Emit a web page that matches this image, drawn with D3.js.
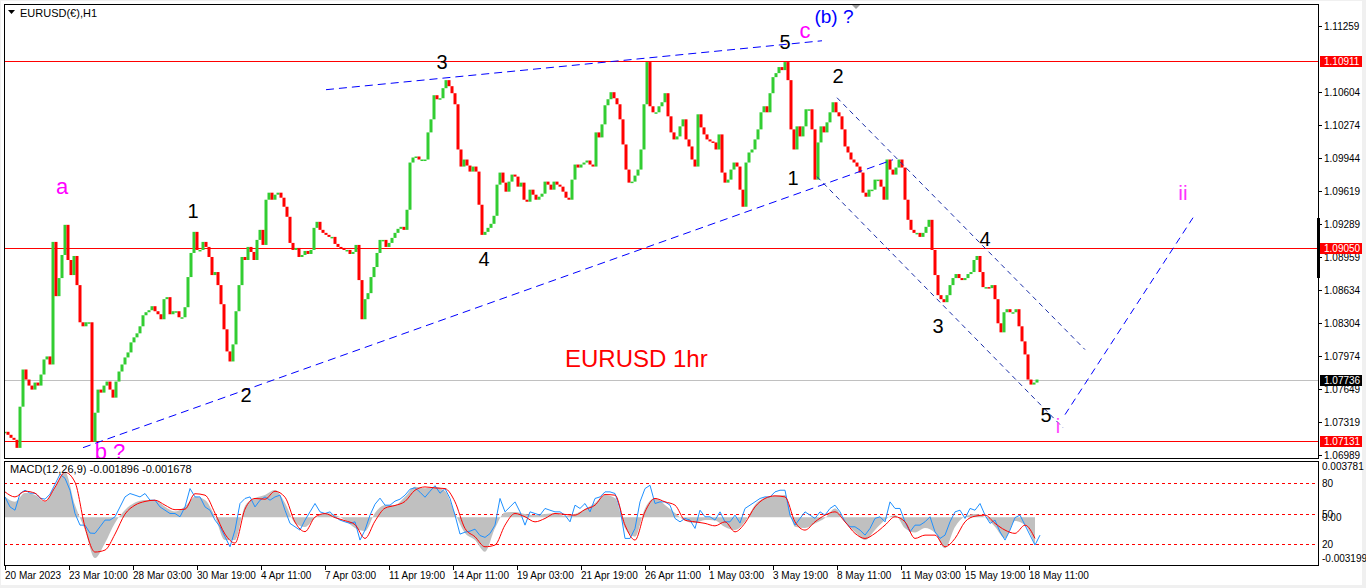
<!DOCTYPE html>
<html>
<head>
<meta charset="utf-8">
<script src="https://d3js.org/d3.v7.min.js"></script>
<style>
  body { margin: 0; background: #f0f0f0; }
  svg { display: block; font-family: "Liberation Sans", Arial, sans-serif; }
</style>
</head>
<body>
<div id="chart"></div>

<script>
// H1 EURUSD, one close every 3 bars (bar 0 = 20 Mar 2023)
const closeStep = 3;
const closes = [
  1.0722,1.0719,1.0716,1.0714,1.0706,1.0747,1.0784,1.0774,1.0768,1.0764,
  1.0771,1.0768,1.0779,1.0794,1.0797,1.0789,1.0911,1.0857,1.0875,1.0898,
  1.0928,1.0893,1.0878,1.0897,1.0868,1.0831,1.0827,1.0831,1.0831,1.0712,
  1.0741,1.0764,1.0761,1.0768,1.0772,1.0764,1.0756,1.0772,1.0782,1.0789,
  1.0796,1.0801,1.0811,1.0816,1.0820,1.0827,1.0838,1.0841,1.0843,1.0847,
  1.0842,1.0839,1.0834,1.0854,1.0856,1.0839,1.0842,1.0842,1.0836,1.0836,
  1.0846,1.0876,1.0900,1.0921,1.0903,1.0903,1.0911,1.0906,1.0896,1.0878,
  1.0881,1.0868,1.0849,1.0824,1.0802,1.0792,1.0809,1.0842,1.0868,1.0896,
  1.0893,1.0906,1.0901,1.0893,1.0913,1.0923,1.0908,1.0953,1.0960,1.0953,
  1.0958,1.0960,1.0955,1.0946,1.0936,1.0910,1.0903,1.0905,1.0896,1.0898,
  1.0902,1.0899,1.0903,1.0925,1.0931,1.0923,1.0920,1.0918,1.0916,1.0916,
  1.0909,1.0906,1.0905,1.0903,1.0903,1.0899,1.0901,1.0908,1.0873,1.0834,
  1.0854,1.0860,1.0876,1.0886,1.0900,1.0913,1.0913,1.0906,1.0910,1.0915,
  1.0920,1.0924,1.0926,1.0923,1.0943,1.0990,1.0995,1.0996,1.0993,1.0993,
  1.0993,1.1020,1.1033,1.1057,1.1053,1.1054,1.1064,1.1072,1.1066,1.1059,
  1.1048,1.1003,1.0986,1.0993,1.0987,1.0981,1.0986,1.0981,1.0948,1.0918,
  1.0921,1.0925,1.0929,1.0937,1.0968,1.0980,1.0970,1.0961,1.0971,1.0978,
  1.0976,1.0966,1.0970,1.0953,1.0951,1.0963,1.0958,1.0953,1.0956,1.0959,
  1.0971,1.0968,1.0963,1.0971,1.0968,1.0966,1.0961,1.0955,1.0953,1.0973,
  1.0988,1.0985,1.0988,1.0990,1.0992,1.0988,1.0986,1.1020,1.1015,1.1028,
  1.1047,1.1053,1.1060,1.1054,1.1048,1.1033,1.1008,1.0983,1.0970,1.0971,
  1.0977,1.0983,1.1003,1.1048,1.1090,1.1046,1.1040,1.1040,1.1046,1.1050,
  1.1059,1.1036,1.1020,1.1013,1.1016,1.1026,1.1033,1.1013,1.1006,1.0993,
  1.0986,1.1038,1.1025,1.1018,1.1013,1.1011,1.1010,1.1003,1.1018,1.0980,
  1.0970,1.0973,1.0983,1.0990,1.0986,1.0963,1.0946,1.0990,1.1000,1.1003,
  1.1013,1.1023,1.1040,1.1046,1.1040,1.1059,1.1075,1.1079,1.1085,1.1082,
  1.1090,1.1072,1.1023,1.1003,1.1026,1.1016,1.1026,1.1043,1.1043,1.1023,
  1.0973,1.1010,1.1026,1.1020,1.1030,1.1040,1.1050,1.1040,1.1036,1.1023,
  1.1006,1.1000,1.0993,1.0990,1.0986,1.0980,1.0960,1.0956,1.0963,1.0963,
  1.0973,1.0973,1.0966,1.0953,1.0993,1.0983,1.0978,1.0985,1.0993,1.0985,
  1.0953,1.0933,1.0923,1.0920,1.0920,1.0916,1.0920,1.0926,1.0933,1.0903,
  1.0878,1.0858,1.0854,1.0851,1.0858,1.0868,1.0875,1.0879,1.0875,1.0873,
  1.0875,1.0879,1.0881,1.0893,1.0897,1.0881,1.0866,1.0866,1.0865,1.0868,
  1.0854,1.0830,1.0821,1.0841,1.0844,1.0841,1.0841,1.0844,1.0827,1.0812,
  1.0799,1.0774,1.0769,1.0771,1.0774
];

// lower window: grey histogram (MACD units), every 10 bars
const histStep = 10;
const macdHist = [
  0.00138,0.00105,0.00163,0.00150,0.00105,0.00205,0.00304,0.00083,-0.00085,-0.00273,
  -0.00172,-0.00038,0.00049,0.00099,0.00116,0.00116,0.00071,0.00039,0.00072,0.00138,
  0.00116,0.00004,-0.00152,-0.00152,0.00076,0.00129,0.00150,0.00183,0.00096,-0.00038,
  -0.00065,-0.00005,0.00029,0.00015,-0.00018,-0.00072,-0.00092,0.00029,0.00083,0.00083,
  0.00138,0.00205,0.00195,0.00205,0.00176,0.00027,-0.00105,-0.00152,-0.00231,-0.00074,
  0.00032,0.00036,0.00022,0.00015,0.00022,0.00027,0.00009,0.00022,0.00056,0.00096,
  0.00150,0.00129,-0.00074,-0.00130,0.00060,0.00129,0.00083,0.00029,-0.00023,-0.00038,
  -0.00018,-0.00021,-0.00065,-0.00085,-0.00030,0.00083,0.00133,0.00146,0.00150,-0.00063,
  -0.00072,-0.00042,-0.00005,0.00060,-0.00032,-0.00099,-0.00152,-0.00085,-0.00018,0.00015,
  -0.00074,-0.00102,-0.00072,-0.00105,-0.00208,-0.00065,0.00005,0.00022,0.00000,-0.00063,
  -0.00141,-0.00025,-0.00052,-0.00186
];

// red line on the 0-100 levels scale, every 10 bars
const signalLine = [
  71.0,66.1,71.6,69.7,62.0,75.5,90.0,80.3,36.8,12.6,
  14.5,30.0,49.4,58.1,61.7,62.9,58.1,53.7,54.2,69.2,
  67.8,50.3,30.0,21.3,54.2,64.6,63.9,71.6,65.8,41.6,
  32.4,46.5,49.9,46.0,43.0,39.2,25.8,42.6,55.2,57.8,
  61.7,72.6,75.8,74.8,74.2,61.3,35.5,27.4,17.7,19.4,
  38.7,50.0,46.8,41.9,45.2,50.0,49.1,48.4,53.9,58.1,
  68.4,67.8,38.7,24.2,51.6,64.6,61.3,58.1,43.6,41.9,
  40.4,38.0,41.9,32.2,40.7,56.4,64.6,67.1,66.1,41.9,
  33.9,41.9,48.4,51.6,41.9,30.7,25.8,30.7,38.7,46.8,
  41.9,25.8,29.0,29.0,17.7,25.8,41.9,47.4,48.4,40.4,
  33.9,30.7,38.7,25.8
];

// blue line on the 0-100 levels scale, every 5 bars
const fastStep = 5;
const fastLine = [
  66.1,56.4,53.2,69.4,72.6,69.7,69.7,64.9,63.9,68.8,
  78.4,88.1,84.2,72.6,50.0,38.7,38.7,31.0,30.7,37.1,
  43.6,43.6,46.8,56.4,66.1,69.4,67.8,66.1,69.4,62.9,
  62.9,56.4,53.2,50.0,50.0,46.8,56.4,74.2,66.1,66.1,
  56.4,53.2,43.6,37.1,27.4,17.7,33.9,59.7,64.6,66.1,
  56.4,62.9,66.1,62.9,66.1,67.8,53.2,40.4,37.1,33.9,
  43.6,51.6,59.7,51.6,50.0,51.6,46.8,43.6,41.9,40.4,
  41.9,24.2,33.9,48.4,59.0,64.9,58.1,58.1,62.0,63.9,
  67.8,73.6,75.0,70.7,65.8,71.6,77.0,69.7,74.2,64.6,
  48.4,30.0,31.9,32.9,34.8,28.6,26.8,30.5,38.7,64.6,
  51.6,56.4,61.3,51.6,38.7,51.6,50.0,48.4,54.9,53.2,
  51.6,51.6,48.4,41.9,58.1,54.9,59.7,51.6,64.6,66.1,
  71.0,71.0,69.4,54.9,25.8,25.8,35.5,61.3,74.2,77.4,
  59.7,61.3,61.3,58.1,45.2,41.9,45.2,43.6,35.5,53.2,
  46.8,46.8,43.6,51.6,41.9,41.9,48.4,40.7,54.9,58.1,
  61.3,64.6,66.1,66.1,71.0,72.6,72.6,48.4,38.7,45.2,
  51.6,48.4,45.2,51.6,48.4,54.9,58.1,51.6,41.9,37.1,
  37.1,33.9,29.0,35.5,45.2,46.8,41.9,61.3,54.9,54.9,
  41.9,32.2,38.7,38.7,41.9,46.8,32.2,25.8,29.0,41.9,
  51.6,53.2,45.2,54.9,53.2,59.7,48.4,40.4,43.6,32.2,
  24.2,33.9,46.0,48.4,38.7,29.0,19.4,29.0
];

const timeLabels = ["20 Mar 2023","23 Mar 10:00","28 Mar 03:00","30 Mar 19:00","4 Apr 11:00",
  "7 Apr 03:00","11 Apr 19:00","14 Apr 11:00","19 Apr 03:00","21 Apr 19:00","26 Apr 11:00",
  "1 May 03:00","3 May 19:00","8 May 11:00","11 May 03:00","15 May 19:00","18 May 11:00"];
const timeLabelStep = 64;

const priceTicks = [1.11259,1.10604,1.10274,1.09944,1.09619,1.09289,1.08959,1.08634,
  1.08304,1.07974,1.07649,1.07319,1.06989];
const levelLines = [1.10911, 1.09050, 1.07131];
const lastPrice = 1.07736;
const oscLevels = [80, 50, 20];
const macdMax = 0.003781, macdMin = -0.003199;

// analyst drawings: [bar, price] pairs
const wedgeLines = [
  [[321, 1.10625], [817, 1.11112]],
  [[78, 1.07062], [888, 1.09928]]
];
const channelLines = [
  [[832, 1.10545], [1080, 1.08038]],
  [[812, 1.09759], [1058, 1.07261]]
];
const projectionLine = [[1060, 1.07391], [1188, 1.09351]];

// wave labels: text, bar, price, colour, size
const waveLabels = [
  ["a", 57, 1.0959, "#ff00ff", 22],
  ["b ?", 105, 1.06950, "#ff00ff", 22],
  ["1", 188, 1.09351, "#000", 20],
  ["2", 241, 1.0752, "#000", 20],
  ["3", 437, 1.10833, "#000", 20],
  ["4", 479, 1.08873, "#000", 20],
  ["5", 780, 1.11032, "#000", 20],
  ["c", 800, 1.11142, "#ff00ff", 22],
  ["(b) ?", 829, 1.11291, "#0000ff", 19],
  ["2", 833, 1.10694, "#000", 20],
  ["1", 788, 1.09679, "#000", 20],
  ["3", 933, 1.08207, "#000", 20],
  ["4", 980, 1.09072, "#000", 20],
  ["5", 1041, 1.07321, "#000", 20],
  ["i", 1053, 1.07212, "#ff44ff", 20],
  ["ii", 1178, 1.0953, "#ff33ff", 21]
];

const W = 1366, H = 588;
const main = {left: 4, right: 1318, top: 4, bottom: 458};
const sub = {top: 461, bottom: 565};

const svg = d3.select("#chart").append("svg")
    .attr("width", W)
    .attr("height", H);

svg.append("rect").attr("width", W).attr("height", H).attr("fill", "#f0f0f0");
svg.append("rect").attr("x", 1).attr("y", 1).attr("width", 1361).attr("height", 584)
    .attr("fill", "white");

const x = d3.scaleLinear()
  .domain([0, timeLabelStep * (timeLabels.length - 1)])
  .range([5, 1029]);
const y = d3.scaleLinear()
  .domain([priceTicks[priceTicks.length - 1], priceTicks[0]])
  .range([455, 26]);
const yOsc = d3.scaleLinear().domain([0, 100]).range([sub.bottom, 462]);
const yMacd = d3.scaleLinear().domain([macdMin, macdMax]).range([sub.bottom, sub.top]);

const defs = svg.append("defs");
defs.append("clipPath").attr("id", "clipMain").append("rect")
  .attr("x", main.left).attr("y", main.top)
  .attr("width", main.right - main.left).attr("height", main.bottom - main.top);
defs.append("clipPath").attr("id", "clipSub").append("rect")
  .attr("x", main.left).attr("y", sub.top)
  .attr("width", main.right - main.left).attr("height", sub.bottom - sub.top);

const gMain = svg.append("g").attr("clip-path", "url(#clipMain)");
const gSub = svg.append("g").attr("clip-path", "url(#clipSub)");

// horizontal levels
gMain.append("line")
  .attr("x1", main.left).attr("x2", main.right)
  .attr("y1", Math.round(y(lastPrice)) + 0.5).attr("y2", Math.round(y(lastPrice)) + 0.5)
  .attr("stroke", "#c0c0c0");
gMain.selectAll(".level")
  .data(levelLines)
  .join("line")
    .attr("x1", main.left).attr("x2", main.right)
    .attr("y1", d => Math.round(y(d)) + 0.5)
    .attr("y2", d => Math.round(y(d)) + 0.5)
    .attr("stroke", "#ff0000");

// candles (open = previous close), drawn edge to edge like the dense H1 bars
gMain.selectAll(".bar")
  .data(closes)
  .join("rect")
    .attr("x", (d, i) => x(i * closeStep) - 1.5)
    .attr("width", 3)
    .attr("y", (d, i) => y(Math.max(d, i ? closes[i - 1] : d)))
    .attr("height", (d, i) => Math.max(1.5, Math.abs(y(d) - y(i ? closes[i - 1] : d))))
    .attr("fill", (d, i) => (i && d < closes[i - 1]) ? "#ff0000" : "#32cd32");

// drawings
const seg = d3.line().x(d => x(d[0])).y(d => y(d[1]));
gMain.selectAll(".wedge")
  .data(wedgeLines)
  .join("path")
    .attr("d", seg)
    .attr("fill", "none")
    .attr("stroke", "#0000ff")
    .attr("stroke-dasharray", "8,5");
gMain.selectAll(".channel")
  .data(channelLines)
  .join("path")
    .attr("d", seg)
    .attr("fill", "none")
    .attr("stroke", "#1b2fa8")
    .attr("stroke-dasharray", "5,4");
gMain.append("path")
  .attr("d", seg(projectionLine))
  .attr("fill", "none")
  .attr("stroke", "#0000ff")
  .attr("stroke-dasharray", "7,5");

gMain.selectAll(".wave")
  .data(waveLabels)
  .join("text")
    .attr("x", d => x(d[1]))
    .attr("y", d => y(d[2]))
    .attr("text-anchor", "middle")
    .attr("fill", d => d[3])
    .style("font-size", d => d[4] + "px")
    .text(d => d[0]);

gMain.append("text")
  .attr("x", x(560)).attr("y", y(1.07868))
  .attr("fill", "#ff0000")
  .style("font-size", "24px")
  .text("EURUSD 1hr");

// lower window
gSub.selectAll(".osc")
  .data(oscLevels)
  .join("line")
    .attr("x1", main.left).attr("x2", main.right)
    .attr("y1", d => Math.round(yOsc(d)) + 0.5)
    .attr("y2", d => Math.round(yOsc(d)) + 0.5)
    .attr("stroke", "#ff0000")
    .attr("stroke-dasharray", "3,3");

gSub.append("path")
  .datum(macdHist)
  .attr("fill", "#c0c0c0")
  .attr("d", d3.area()
    .x((d, i) => x(i * histStep))
    .y0(yMacd(0))
    .y1(d => yMacd(d))
    .curve(d3.curveMonotoneX));

gSub.append("path")
  .datum(fastLine)
  .attr("fill", "none")
  .attr("stroke", "#1e90ff")
  .attr("d", d3.line().x((d, i) => x(i * fastStep)).y(d => yOsc(d)));

gSub.append("path")
  .datum(signalLine)
  .attr("fill", "none")
  .attr("stroke", "#ff0000")
  .attr("d", d3.line().x((d, i) => x(i * histStep)).y(d => yOsc(d)).curve(d3.curveMonotoneX));

// frames
svg.append("rect")
  .attr("x", main.left + 0.5).attr("y", main.top + 0.5)
  .attr("width", main.right - main.left).attr("height", main.bottom - main.top)
  .attr("fill", "none").attr("stroke", "black");
svg.append("rect")
  .attr("x", main.left + 0.5).attr("y", sub.top + 0.5)
  .attr("width", main.right - main.left).attr("height", sub.bottom - sub.top)
  .attr("fill", "none").attr("stroke", "black");
svg.append("rect").attr("x", main.right - 1).attr("y", 218).attr("width", 3).attr("height", 60)
  .attr("fill", "black");

// header texts
svg.append("path").attr("d", "M8,10 L15,10 L11.5,14 Z").attr("fill", "black");
svg.append("text").attr("x", 20).attr("y", 17).style("font-size", "11px")
  .text("EURUSD(€),H1");
svg.append("path").attr("d", "M852,5 L860,5 L856,9 Z").attr("fill", "#a0a0a0");
svg.append("text").attr("x", 10).attr("y", 473).style("font-size", "11px")
  .text("MACD(12,26,9) -0.001896 -0.001678");

// price axis
const axisText = 1324;
svg.selectAll(".ptick")
  .data(priceTicks)
  .join("line")
    .attr("x1", main.right).attr("x2", main.right + 4)
    .attr("y1", d => Math.round(y(d)) + 0.5).attr("y2", d => Math.round(y(d)) + 0.5)
    .attr("stroke", "black");
svg.selectAll(".plabel")
  .data(priceTicks)
  .join("text")
    .attr("x", axisText).attr("y", d => y(d) + 4)
    .style("font-size", "10px")
    .text(d => d.toFixed(5));

const tags = levelLines.map(v => [v, "#ff0000"]).concat([[lastPrice, "black"]]);
tags.forEach(([v, c]) => {
  svg.append("rect").attr("x", main.right + 2).attr("y", Math.round(y(v)) - 5)
    .attr("width", 42).attr("height", 11).attr("fill", c);
  svg.append("text").attr("x", axisText).attr("y", Math.round(y(v)) + 4)
    .attr("fill", "white").style("font-size", "10px").text(v.toFixed(5));
});

// lower window axis
const subLabels = [[macdMax.toFixed(6), yMacd(macdMax) + 9]]
  .concat(oscLevels.map(v => [String(v), yOsc(v) + 4]))
  .concat([["0.00", yMacd(0) + 4], [macdMin.toFixed(6), yMacd(macdMin) - 3]]);
svg.selectAll(".slabel")
  .data(subLabels)
  .join("text")
    .attr("x", 1322).attr("y", d => d[1])
    .style("font-size", "10px")
    .text(d => d[0]);

// time axis
svg.selectAll(".ttick")
  .data(timeLabels)
  .join("line")
    .attr("x1", (d, i) => Math.round(x(i * timeLabelStep)) + 0.5)
    .attr("x2", (d, i) => Math.round(x(i * timeLabelStep)) + 0.5)
    .attr("y1", sub.bottom).attr("y2", sub.bottom + 5)
    .attr("stroke", "black");
svg.selectAll(".tlabel")
  .data(timeLabels)
  .join("text")
    .attr("x", (d, i) => x(i * timeLabelStep))
    .attr("y", 579)
    .style("font-size", "10px")
    .text(d => d);
</script>
</body>
</html>
